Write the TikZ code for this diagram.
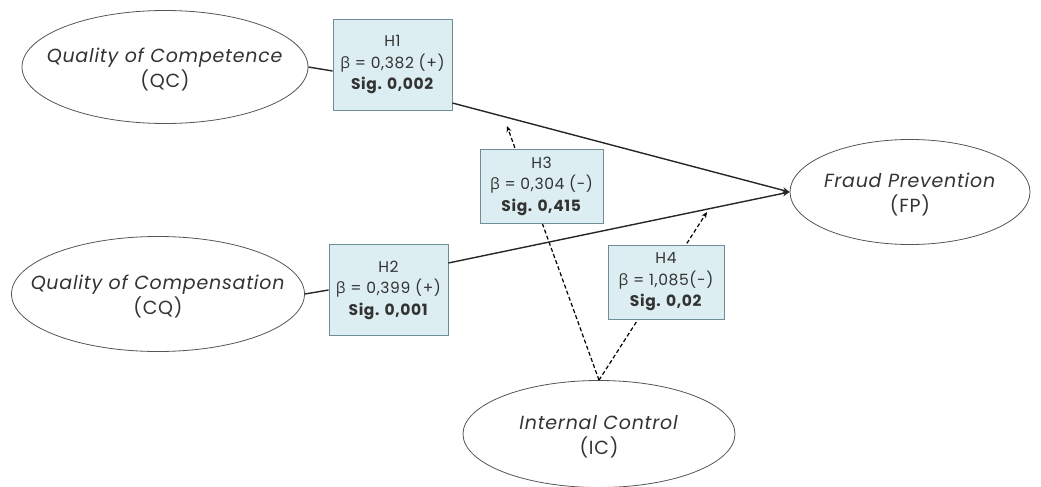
\documentclass[tikz,border=0pt]{standalone}
\usepackage{fontspec}
\setmainfont{Poppins}[LetterSpace=4]
\newfontfamily\greekfont{Open Sans}
\usetikzlibrary{arrows.meta, shapes.geometric}
\definecolor{boxfill}{HTML}{DCEEF2}
\definecolor{boxline}{HTML}{6F8E9A}
\definecolor{inktext}{HTML}{333333}
\definecolor{inkline}{HTML}{555555}
\newcommand{\bet}{{\greekfont β}}
% two centred lines that do not widen the ellipse
\newcommand{\twolines}[2]{\makebox[0pt]{\raisebox{-8pt}[0pt][0pt]{\begin{tabular}{@{}c@{}}#1\\#2\end{tabular}}}}

\begin{document}
\begin{tikzpicture}[
        x=1pt, y=-1pt,
        latent/.style={ellipse, draw=inkline, line width=0.8pt, fill=white,
                       text=inktext, inner sep=0pt,
                       font=\fontsize{19}{23}\selectfont},
        hyp/.style={rectangle, draw=boxline, fill=boxfill, line width=0.8pt,
                    text=inktext, align=center, inner sep=0pt,
                    minimum height=74, font=\fontsize{15.5}{21.5}\selectfont},
        path/.style={line width=1.4pt, color=black!85},
        arrow/.style={path, -{Stealth[length=7pt, width=6pt]}},
        moder/.style={line width=1.2pt, dash pattern=on 4pt off 2.5pt,
                      -{Stealth[length=6pt, width=5pt]}}
    ]
    \useasboundingbox (0,0) rectangle (1041,487);

    % constructs
    \node[latent, minimum width=286, minimum height=113] (QC) at (165,67)
        {\twolines{\textit{Quality of Competence}}{(QC)}};
    \node[latent, minimum width=293, minimum height=115] (CQ) at (158,294)
        {\twolines{\textit{Quality of Compensation}}{(CQ)}};
    \node[latent, minimum width=240, minimum height=105] (FP) at (910,192)
        {\twolines{\textit{Fraud Prevention}}{(FP)}};
    \node[latent, minimum width=272, minimum height=107] (IC) at (599,434)
        {\twolines{\textit{Internal Control}}{(IC)}};

    % moderation targets on the paths
    \coordinate (m3) at (507,126);
    \coordinate (m4) at (707,212);

    % moderating effects run behind the boxes
    \draw[moder] (IC.north) -- (m3);
    \draw[moder] (IC.north) -- (m4);

    % hypothesis boxes
    \node[hyp, minimum width=119, minimum height=91] (H1) at (392.5,65)
        {H1\\\bet{} = 0,382 (+)\\\textbf{Sig. 0,002}};
    \node[hyp, minimum width=119, minimum height=91] (H2) at (388.5,290)
        {H2\\\bet{} = 0,399 (+)\\\textbf{Sig. 0,001}};
    \node[hyp, minimum width=123] (H3) at (541.5,186)
        {H3\\\bet{} = 0,304 (-)\\\textbf{Sig. 0,415}};
    \node[hyp, minimum width=116] (H4) at (666,282)
        {H4\\\bet{} = 1,085(-)\\\textbf{Sig. 0,02}};

    % direct paths
    \draw[path] (QC.east) -- ([yshift=-6]H1.west);
    \draw[arrow] ([yshift=-38]H1.east) -- (FP.west);
    \draw[path] (CQ.east) -- (H2.west);
    \draw[arrow] ([yshift=27]H2.east) -- (FP.west);
\end{tikzpicture}
\end{document}
